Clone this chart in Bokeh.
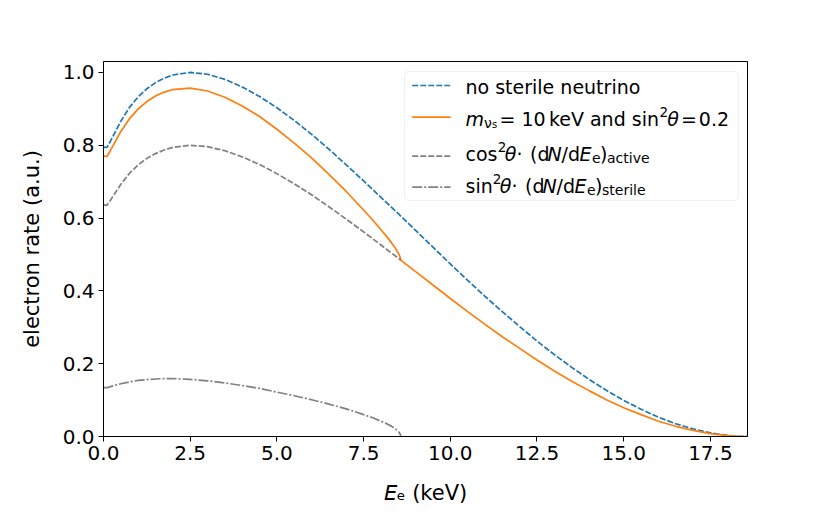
from bokeh.plotting import figure
from bokeh.models import Range1d, FixedTicker, PrintfTickFormatter, Label, BoxAnnotation, Arrow
from bokeh.embed import file_html
from bokeh.resources import INLINE

# ---------------- data ----------------
# no sterile neutrino
E_full = [0, 0.1, 0.2, 0.35, 0.5, 0.75, 1.0, 1.25, 1.5, 1.75, 2.0,
          2.5, 3.0, 3.5, 4.0, 4.5, 5.0, 5.5, 6.0, 6.5, 7.0, 7.5, 8.0, 8.5,
          9.0, 9.5, 10.0, 10.5, 11.0, 11.5, 12.0, 12.5, 13.0, 13.5, 14.0,
          14.5, 15.0, 15.5, 16.0, 16.5, 17.0, 17.5, 18.0, 18.3, 18.57]
rate_no_sterile = [0.795, 0.794, 0.811, 0.839, 0.866, 0.904, 0.933, 0.955, 0.972, 0.984, 0.993,
                   1.000, 0.995, 0.981, 0.960, 0.934, 0.903, 0.868, 0.830, 0.789, 0.746, 0.702,
                   0.657, 0.612, 0.566, 0.520, 0.474, 0.429, 0.385, 0.343, 0.302, 0.262, 0.225,
                   0.190, 0.157, 0.127, 0.099, 0.075, 0.053, 0.035, 0.021, 0.010, 0.0028,
                   0.0005, 0.0]

# below the kink (E0 - m_s)
E_low = [0, 0.1, 0.2, 0.35, 0.5, 0.75, 1.0, 1.25, 1.5, 1.75, 2.0, 2.5, 3.0, 3.5,
         4.0, 4.5, 5.0, 5.5, 6.0, 6.5, 7.0, 7.5, 7.75, 8.0, 8.15, 8.3, 8.4, 8.47,
         8.52, 8.55, 8.565, 8.57]
rate_active = [0.636, 0.635, 0.649, 0.671, 0.693, 0.723, 0.746, 0.764, 0.777, 0.787,
               0.794, 0.800, 0.796, 0.785, 0.768, 0.747, 0.722, 0.694, 0.664, 0.631,
               0.597, 0.562, 0.544, 0.526, 0.515, 0.504, 0.497, 0.492,
               0.488, 0.486, 0.485, 0.4845]
rate_sterile = [0.134, 0.134, 0.137, 0.141, 0.145, 0.150, 0.154, 0.156, 0.158, 0.159,
                0.159, 0.157, 0.153, 0.147, 0.140, 0.132, 0.122, 0.112, 0.101, 0.089,
                0.076, 0.060, 0.052, 0.042, 0.036, 0.0285, 0.0225, 0.017,
                0.012, 0.0076, 0.0038, 0.0]

# with sterile neutrino (m = 10 keV, sin^2 = 0.2)
E_mix = E_low + [9.0, 9.5, 10.0, 10.5, 11.0, 11.5, 12.0, 12.5, 13.0, 13.5, 14.0,
                 14.5, 15.0, 15.5, 16.0, 16.5, 17.0, 17.5, 18.0, 18.3, 18.57]
rate_mix = [0.770, 0.769, 0.786, 0.812, 0.838, 0.873, 0.900, 0.920, 0.935, 0.946,
            0.953, 0.957, 0.949, 0.932, 0.908, 0.879, 0.844, 0.806, 0.765, 0.720,
            0.673, 0.622, 0.596, 0.568, 0.551, 0.5325, 0.5195, 0.509,
            0.500, 0.4936, 0.4888, 0.4845,
            0.453, 0.416, 0.379, 0.343, 0.308, 0.274, 0.242, 0.210, 0.180, 0.152,
            0.126, 0.101, 0.079, 0.060, 0.042, 0.028, 0.017, 0.008, 0.0022, 0.0004, 0.0]

x_ticks = [0, 2.5, 5.0, 7.5, 10.0, 12.5, 15.0, 17.5]
y_ticks = [0.0, 0.2, 0.4, 0.6, 0.8, 1.0]

FONT = "DejaVu Sans"
BLUE = "#1f77b4"
ORANGE = "#ff7f0e"
GRAY = "#808080"

p = figure(width=828, height=511, output_backend="svg", toolbar_location=None,
           x_range=Range1d(0, 18.57), y_range=Range1d(0, 1.03),
           min_border_left=103, min_border_right=81, min_border_top=61, min_border_bottom=75)
p.background_fill_color = "white"
p.border_fill_color = "white"
p.outline_line_color = "black"
p.outline_line_width = 1
p.outline_line_alpha = 1
p.xgrid.visible = False
p.ygrid.visible = False

for ax in (p.xaxis[0], p.yaxis[0]):
    ax.axis_line_color = "black"
    ax.axis_line_width = 1
    ax.major_tick_line_color = "black"
    ax.major_tick_line_width = 1
    ax.minor_tick_line_color = None
    ax.major_tick_out = 5
    ax.major_tick_in = 0
    ax.major_label_text_font = FONT
    ax.major_label_text_font_size = "20px"
    ax.major_label_text_color = "black"
    ax.major_label_standoff = 4
    ax.formatter = PrintfTickFormatter(format="%.1f")
    ax.axis_label_text_font = FONT
    ax.axis_label_text_font_size = "21px"
    ax.axis_label_text_font_style = "normal"
    ax.axis_label_text_color = "black"

p.xaxis[0].ticker = FixedTicker(ticks=x_ticks)
p.yaxis[0].ticker = FixedTicker(ticks=y_ticks)
p.yaxis[0].axis_label = "electron rate (a.u.)"
p.yaxis[0].axis_label_standoff = 16
p.xaxis[0].axis_label = "\U0001D60C\u2091 (keV)"
p.xaxis[0].axis_label_standoff = 18

LW = 1.7
p.line(E_full, rate_no_sterile, line_color=BLUE, line_width=LW, line_dash="6 2")
p.line(E_mix, rate_mix, line_color=ORANGE, line_width=LW)
p.line(E_low, rate_active, line_color=GRAY, line_width=LW, line_dash="6 2")
p.line(E_low, rate_sterile, line_color=GRAY, line_width=LW, line_dash="10 2 2 2")

# ---------------- hand-built legend (screen units, frame relative) ----------------
p.add_layout(BoxAnnotation(left=301, right=635, top=365, bottom=236,
                           left_units="screen", right_units="screen",
                           top_units="screen", bottom_units="screen",
                           fill_color="white", fill_alpha=0.8,
                           line_color="#cccccc", line_width=1, border_radius=4,
                           level="annotation"))

samples = [(351, BLUE, "6 2"), (319.3, ORANGE, "solid"), (280.3, GRAY, "6 2"), (249.3, GRAY, "10 2 2 2")]
for y, c, d in samples:
    p.add_layout(Arrow(end=None, x_start=308.7, x_end=347, y_start=y, y_end=y,
                       start_units="screen", end_units="screen",
                       line_color=c, line_width=LW, line_dash=d))


def lab(x, y, text, size="19px", style="normal"):
    p.add_layout(Label(x=x, y=y, x_units="screen", y_units="screen", text=text,
                       text_font=FONT, text_font_size=size, text_font_style=style,
                       text_color="black", text_baseline="alphabetic", text_align="left"))


UP = 6
# row 1
lab(362, 343.3 + UP, "no sterile neutrino")
# row 2
b = 311.5 + UP
lab(362, b, "m", style="italic")
lab(380.5, b - 3.5, "ν", size="14px")
lab(388.4, b - 5.5, "s", size="10px")
lab(396, b, "= 10")
lab(445.4, b, "keV and sin")
lab(556, b + 7, "2", size="13.5px")
lab(563.7, b, "θ", style="italic")
lab(577.5, b, "=")
lab(595.3, b, "0.2")
# row 3
b = 276.5 + UP
lab(362, b, "cos")
lab(394.3, b + 7, "2", size="13.5px")
lab(401.3, b, "θ", style="italic")
lab(413, b, "·")
lab(426.5, b, "(d")
lab(444, b, "N", style="italic")
lab(458, b, "/d")
lab(476, b, "E", style="italic")
lab(488.5, b - 3.5, "e", size="14px")
lab(496.5, b, ")")
lab(503.5, b - 3.5, "active", size="14px")
# row 4
b = 244.5 + UP
lab(362, b, "sin")
lab(389.3, b + 7, "2", size="13.5px")
lab(396.3, b, "θ", style="italic")
lab(408, b, "·")
lab(421.5, b, "(d")
lab(439, b, "N", style="italic")
lab(453, b, "/d")
lab(471, b, "E", style="italic")
lab(483.5, b - 3.5, "e", size="14px")
lab(491.5, b, ")")
lab(498.5, b - 3.5, "sterile", size="14px")

open("out.html", "w").write(file_html(p, INLINE))
